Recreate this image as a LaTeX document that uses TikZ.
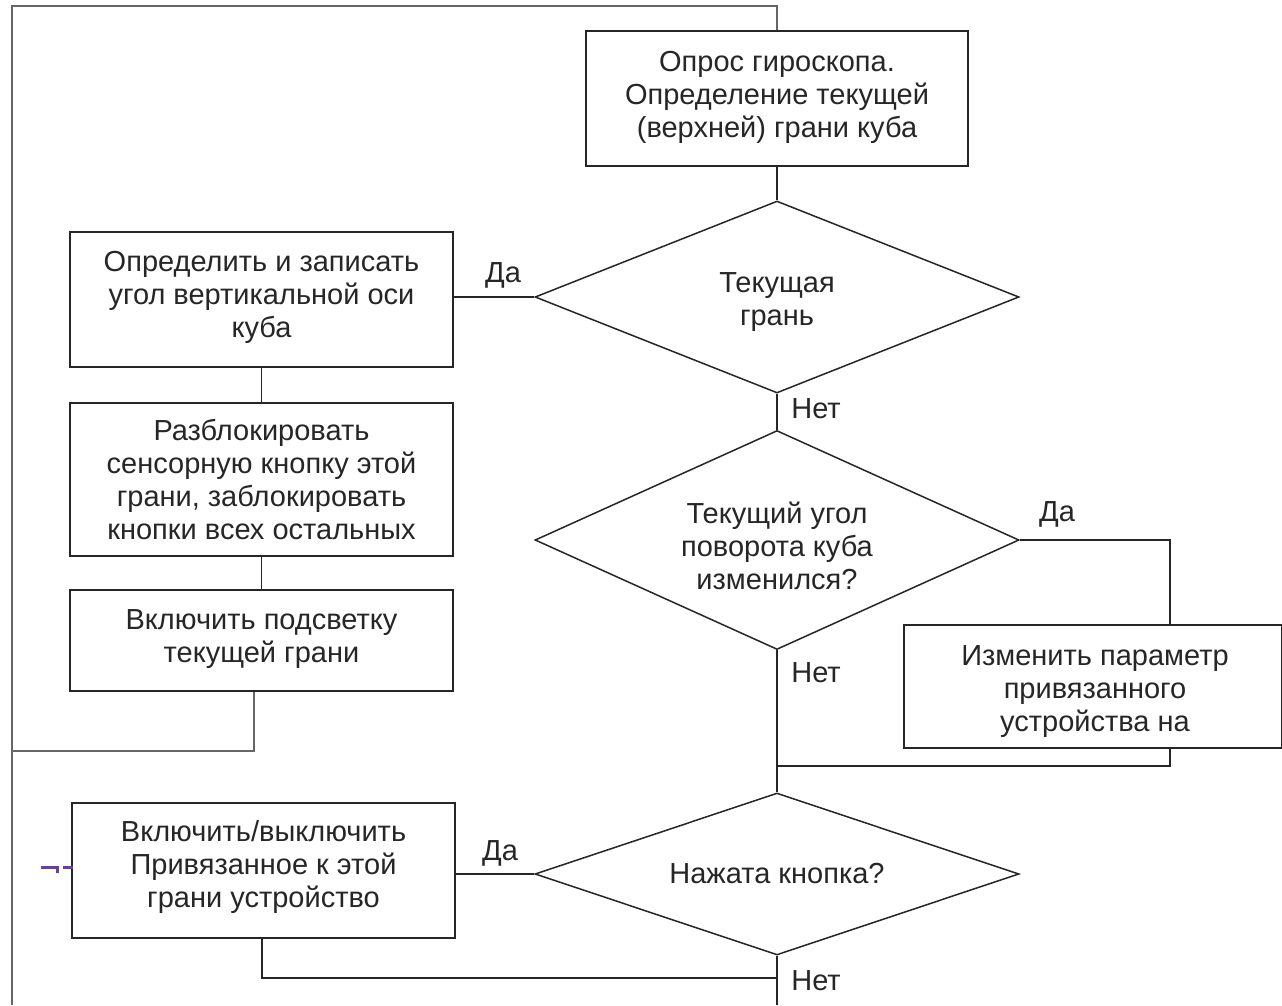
\documentclass[tikz,border=0pt]{standalone}
\usepackage{fontspec}
\setmainfont{Liberation Sans}
\usetikzlibrary{shapes.geometric}
\begin{document}
\begin{tikzpicture}[x=1pt,y=-1pt,
  every node/.style={font=\fontsize{29}{33}\selectfont, text=black!85},
  procbox/.style={draw=black!85, line width=1.5pt, rectangle, align=center, inner sep=0pt},
  decision/.style={draw=black!85, line width=1.5pt, diamond, aspect=2.6, align=center, inner sep=0pt},
  txt/.style={align=center, inner sep=0pt},
  link/.style={draw=black!85, line width=1.5pt},
  loopline/.style={draw=black!60, line width=1.6pt},
  markline/.style={draw={rgb,255:red,110;green,60;blue,160}, line width=3pt},
  lbl/.style={inner sep=0pt}]
\useasboundingbox (0,0) rectangle (1282,1005);
\clip (0,0) rectangle (1282,1005);
\fill[white] (0,0) rectangle (1282,1005);

% process boxes
\node[procbox, minimum width=382pt, minimum height=135pt] (b1) at (777,98.5) {};
\node[txt] (b1t) at ([yshift=1pt]b1.center) {Опрос гироскопа.\\Определение текущей\\(верхней) грани куба};
\node[procbox, minimum width=383pt, minimum height=135pt] (b2) at (261.5,299.5) {};
\node[txt] (b2t) at ([yshift=2pt]b2.center) {Определить и записать\\угол вертикальной оси\\куба};
\node[procbox, minimum width=383pt, minimum height=153pt] (b3) at (261.5,479.5)
  {Разблокировать\\сенсорную кнопку этой\\грани, заблокировать\\кнопки всех остальных};
\node[procbox, minimum width=383pt, minimum height=101pt] (b4) at (261.5,640.5) {};
\node[txt] (b4t) at ([yshift=1pt]b4.center) {Включить подсветку\\текущей грани};
\node[procbox, minimum width=378pt, minimum height=123pt] (b5) at (1093,686.5) {};
\node[txt] (b5t) at ([xshift=2pt,yshift=-5pt]b5.center) {Изменить параметр\\привязанного\\устройства на};
\node[procbox, minimum width=383pt, minimum height=135pt] (b6) at (263.5,870.5) {};
\node[txt] (b6t) at ([yshift=4pt]b6.center) {Включить/выключить\\Привязанное к этой\\грани устройство};

% decisions
\node[decision, minimum width=484pt, minimum height=192pt] (d1) at (777,297) {};
\node[txt] (d1t) at ([yshift=-5pt]d1.center) {Текущая\\грань};
\node[decision, minimum width=484pt, minimum height=219pt] (d2) at (777,540) {};
\node[txt] (d2t) at ([yshift=-6pt]d2.center) {Текущий угол\\поворота куба\\изменился?};
\node[decision, minimum width=484pt, minimum height=162pt] (d3) at (777,874) {};
\node[txt] (d3t) at (d3.center) {Нажата кнопка?};

% helper coordinates
\coordinate (lt) at (12,6);
\coordinate (rt) at (777,6);
\coordinate (lb) at (12,1005);
\coordinate (fb4) at (254,751);
\coordinate (fl) at (12,751);
\coordinate (r2) at (1170,540);
\coordinate (r5) at (1170,766);
\coordinate (m5) at (777,766);
\coordinate (c6) at (262,978);
\coordinate (m6) at (777,978);
\coordinate (bot) at (777,1005);

% loop line
\draw[loopline] (lb) -- (lt) -- (rt) -- (b1.north);
\draw[loopline] (b4.south -| fb4) -- (fb4) -- (fl);

% connectors
\draw[link] (b1.south) -- (d1.north);
\draw[link] (b2.east |- d1.west) -- (d1.west);
\draw[link] (b2.south) -- (b3.north);
\draw[link] (b3.south) -- (b4.north);
\draw[link] (d1.south) -- (d2.north);
\draw[link] (d2.east) -- (r2) -- (b5.north -| r2);
\draw[link] (b5.south -| r5) -- (r5) -- (m5);
\draw[link] (d2.south) -- (d3.north);
\draw[link] (b6.east |- d3.west) -- (d3.west);
\draw[link] (b6.south -| c6) -- (c6) -- (m6);
\draw[link] (d3.south) -- (bot);

% labels
\node[lbl] (l1) at (503,275) {Да};
\node[lbl] (l2) at (816,409) {Нет};
\node[lbl] (l3) at (1057,514) {Да};
\node[lbl] (l4) at (816,673) {Нет};
\node[lbl] (l5) at (500,853) {Да};
\node[lbl] (l6) at (816,981) {Нет};

% purple mark
\draw[markline] (41,867) -- (57,867) -- (57,873);
\draw[markline] (63,867) -- (73,867);
\end{tikzpicture}
\end{document}
